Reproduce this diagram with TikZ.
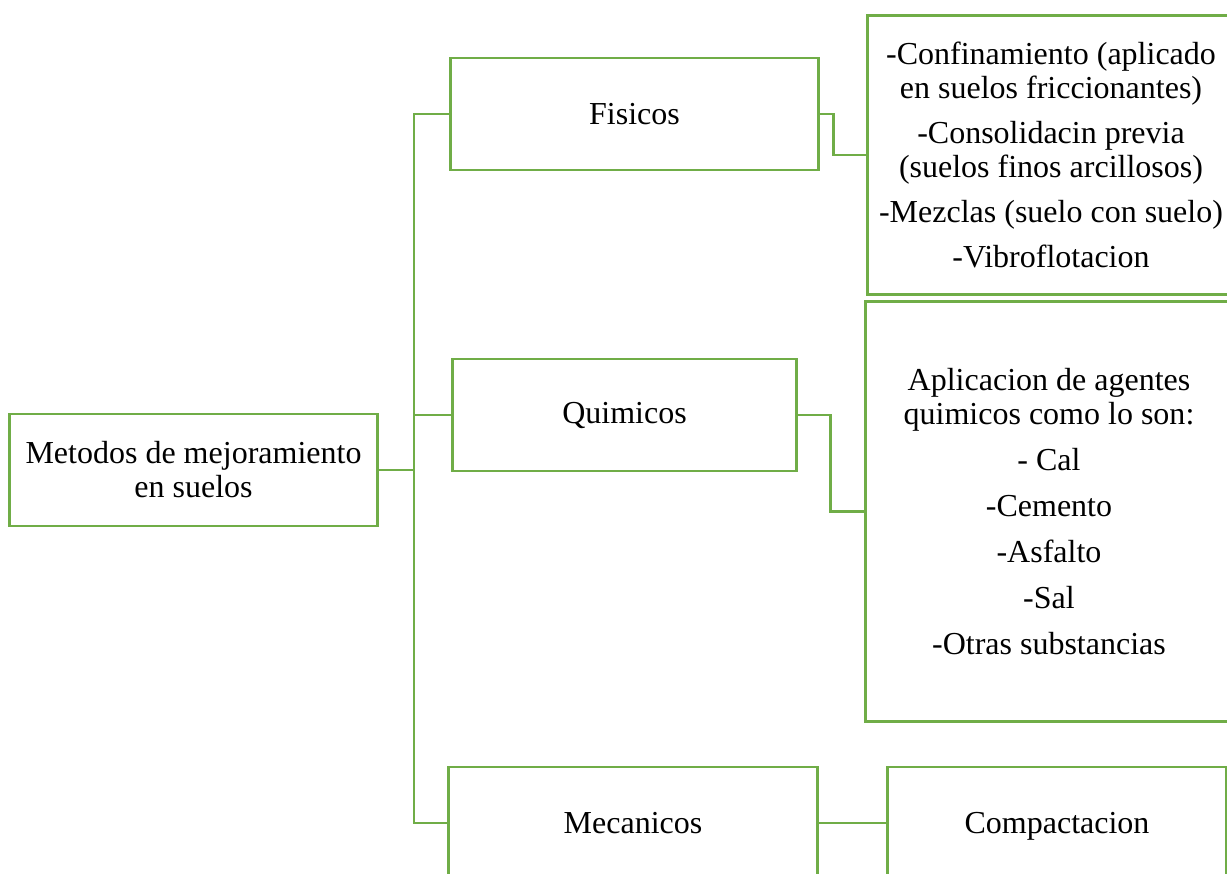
\documentclass[tikz,border=0pt]{standalone}
\usepackage{fontspec}
\setmainfont{Liberation Serif}
\definecolor{leaf}{RGB}{112,173,71}
\begin{document}
\begin{tikzpicture}[x=0.025cm, y=-0.025cm,
        font=\fontsize{22.76}{24.2}\selectfont,
        box/.style={draw=leaf, line width=2.1pt, align=center, minimum height=2.8cm},
        link/.style={draw=leaf, line width=2.1pt}]
    \useasboundingbox (0,0) rectangle (1227,873);
    % root and the three groups
    \node[box, minimum width=9.175cm] (root) at (193.5,470) {Metodos de mejoramiento\\en suelos};
    \node[box, minimum width=9.175cm] (fis) at (634.5,114) {Fisicos};
    \node[box, minimum width=8.575cm] (qui) at (624.5,415) {Quimicos};
    \node[box, minimum width=9.2cm] (mec) at (633,823) {Mecanicos};
    % details
    \node[box, minimum width=9.15cm, minimum height=6.95cm] (fisd) at (1051,155)
        {-Confinamiento (aplicado\\en suelos friccionantes)\\[0.28cm]
         -Consolidacin previa\\(suelos finos arcillosos)\\[0.28cm]
         -Mezclas (suelo con suelo)\\[0.28cm]
         -Vibroflotacion};
    \node[box, minimum width=9.15cm, minimum height=10.475cm] (quid) at (1049,511.5)
        {Aplicacion de agentes\\quimicos como lo son:\\[0.3cm]
         - Cal\\[0.3cm] -Cemento\\[0.3cm] -Asfalto\\[0.3cm] -Sal\\[0.3cm]
         -Otras substancias};
    \node[box, minimum width=8.45cm, text depth=0pt] (comp) at (1057,823) {Compactacion};
    % connectors
    \coordinate (j) at (414,470);
    \draw[link] (root.east) -- (j) |- (fis.west);
    \draw[link] (root.east) -- (j) |- (qui.west);
    \draw[link] (root.east) -- (j) |- (mec.west);
    \draw[link] (fis.east) -- ++(14,0) |- (fisd.west);
    \draw[link] (qui.east) -- ++(33,0) |- (quid.west);
    \draw[link] (mec.east) -- (comp.west);
\end{tikzpicture}
\end{document}
